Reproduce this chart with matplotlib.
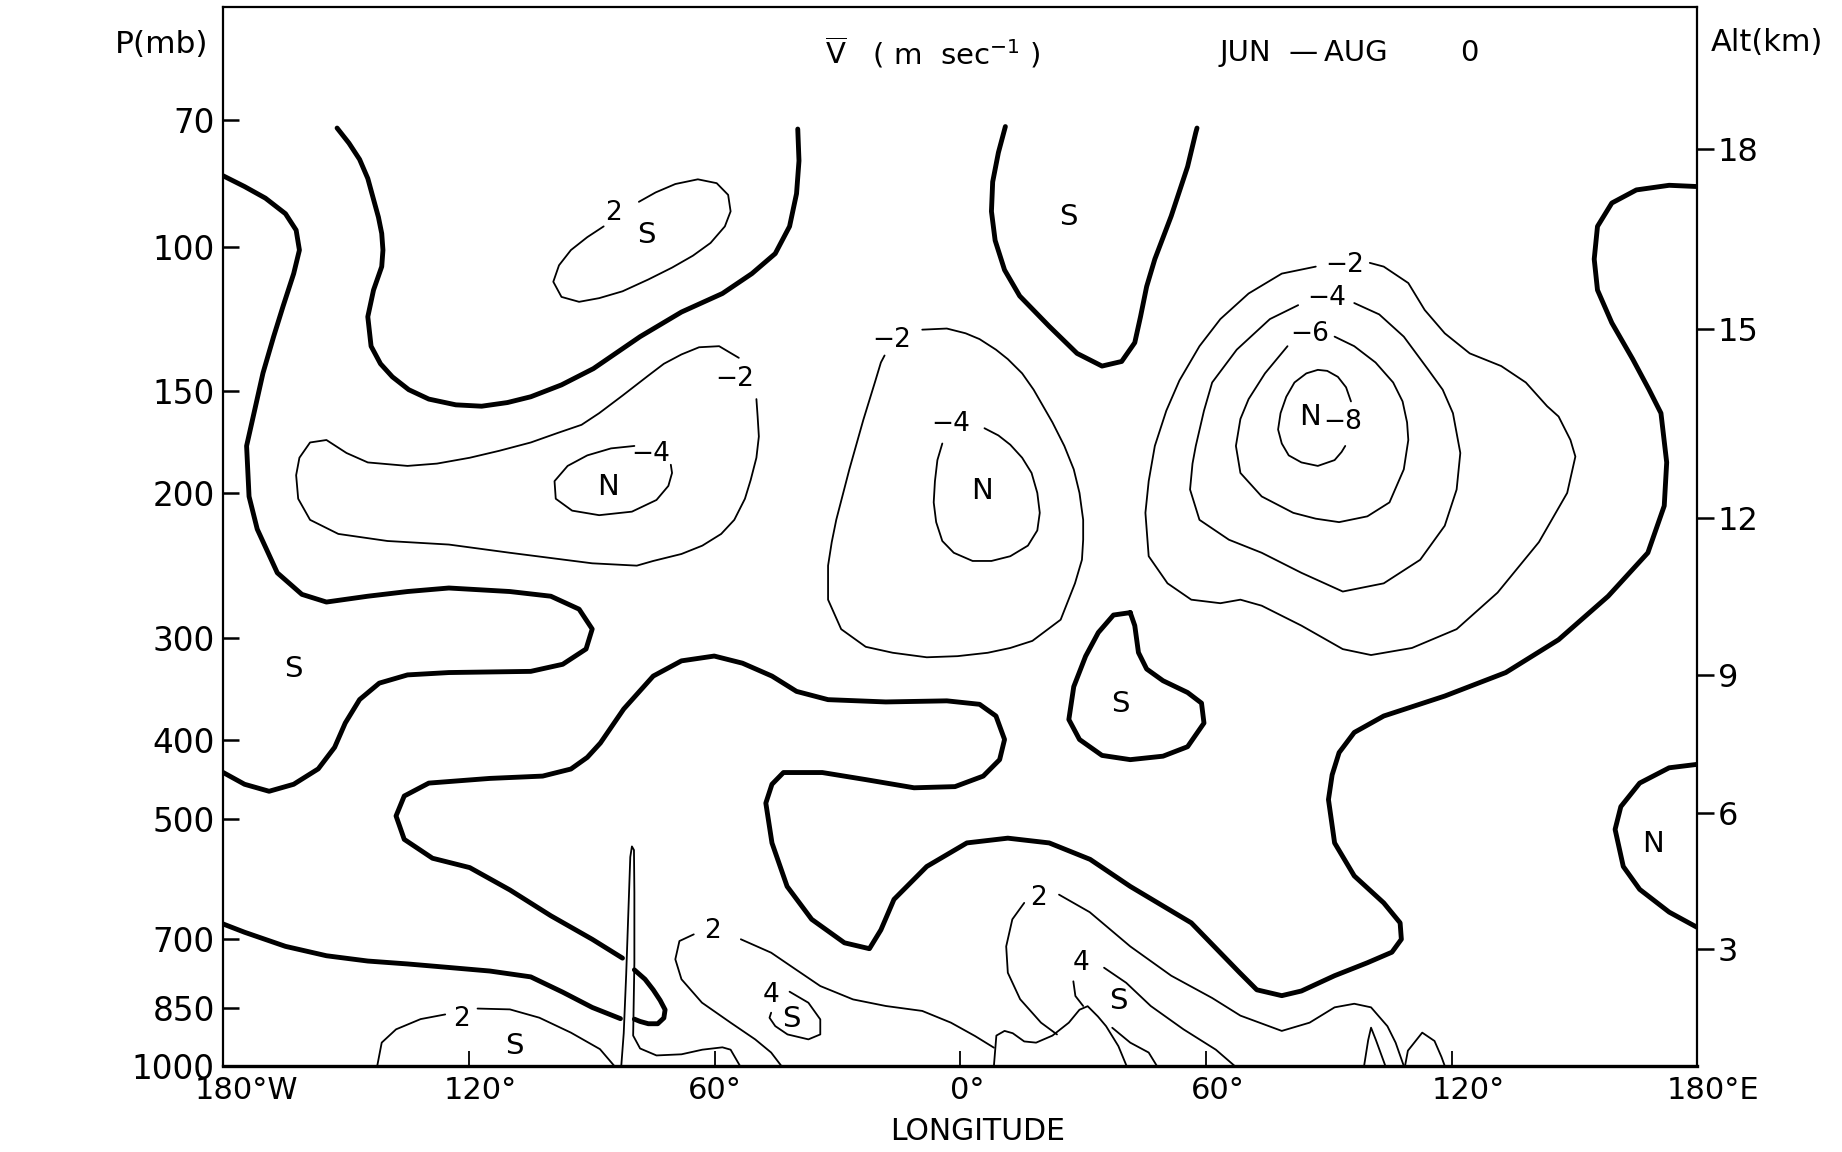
import matplotlib.pyplot as plt
from matplotlib.ticker import NullLocator
from matplotlib.transforms import ScaledTranslation

plt.rcParams['font.family'] = ['DejaVu Sans']
plt.rcParams['mathtext.default'] = 'regular'

# axes
p_ticks = [70, 100, 150, 200, 300, 400, 500, 700, 850, 1000]
p_labels = ['70', '100', '150', '200', '300', '400', '500', '700', '850', '1000']
lon_ticks = [-180, -120, -60, 0, 60, 120, 180]
lon_labels = ['180°W', '120°', '60°', '0°', '60°', '120°', '180°E']
alt_km = [3, 6, 9, 12, 15, 18]
alt_p = [720, 491, 333, 214, 126, 76]

# zero lines (heavy)
z1_lon = [-180, -174.8, -169.7, -164.8, -162.2, -161.4, -162.8, -165.4, -167.7, -170.3,
          -172.3, -174.3, -173.7, -171.7, -166.8, -160.8, -154.8, -144.7, -135.0, -124.9,
          -110.0, -100.0, -93.1, -89.9, -91.4, -97.1, -104.9, -124.9, -135.0, -141.9,
          -146.7, -150.2, -152.8, -156.8, -162.8, -168.8, -174.8, -180]
z1_p = [81.9, 84.4, 87.2, 91.1, 95.4, 100.9, 107.8, 118.2, 128.7, 142.6,
        158.0, 175.0, 201.7, 221.1, 250.0, 265.6, 271.4, 267.0, 263.5, 260.9,
        263.5, 267.0, 276.9, 292.8, 309.7, 323.3, 329.8, 330.9, 333.1, 340.9,
        357.0, 381.3, 408.3, 433.8, 453.0, 462.0, 453.0, 438.3]

z2_lon = [-152.2, -149.3, -146.7, -144.7, -143.3, -142.1, -141.3, -141.0, -141.3, -143.3,
          -144.7, -143.9, -141.6, -138.7, -134.7, -129.8, -123.2, -116.9, -110.6, -104.9,
          -97.4, -89.6, -78.2, -68.1, -58.1, -50.9, -45.2, -41.7, -40.0, -39.4, -39.7]
z2_p = [71.6, 74.7, 78.2, 82.5, 87.5, 92.0, 96.3, 100.9, 105.7, 112.9,
        121.7, 132.2, 138.9, 144.1, 149.4, 153.4, 155.9, 156.5, 154.9, 152.4,
        147.4, 140.8, 128.7, 120.1, 114.0, 107.8, 101.9, 94.4, 86.1, 78.5, 71.8]

z3_lon = [11.0, 9.3, 7.9, 7.6, 8.5, 10.8, 14.5, 21.7, 28.5, 34.6,
          39.4, 42.6, 44.0, 45.5, 47.5, 51.5, 55.5, 57.5, 57.8]
z3_p = [71.3, 76.7, 83.3, 90.5, 98.2, 106.7, 114.8, 125.0, 134.9, 139.8,
        138.0, 130.9, 121.7, 111.8, 103.5, 91.7, 79.8, 72.5, 71.6]

z4_lon = [-82.5, -89.9, -100.0, -110.0, -119.8, -128.9, -135.8, -137.8, -135.8, -129.8,
          -114.9, -102.0, -95.1, -91.1, -87.9, -82.2, -75.0, -68.1, -60.1, -53.2,
          -46.0, -40.0, -32.3, -18.2, -3.3, 4.7, 8.7, 10.8, 9.6, 5.6,
          -1.3, -11.3, -23.1, -33.7, -43.2, -46.0, -47.5, -46.0, -42.3, -36.3,
          -28.3, -22.2, -19.4, -16.2, -8.2, 1.6, 11.6, 21.7, 31.7, 41.5,
          56.4, 68.1, 72.4, 78.5, 83.3, 91.4, 99.4, 105.4, 107.7, 107.4,
          103.4, 96.2, 91.4, 89.9, 90.8, 92.5, 96.2, 103.4, 118.3, 133.2,
          146.1, 158.2, 167.9, 171.9, 172.5, 171.1, 168.2, 164.2, 159.1, 155.6,
          154.8, 155.6, 159.1, 165.1, 173.1, 180.0]
z4_p = [738.5, 700.4, 655.6, 609.7, 572.6, 557.7, 528.9, 495.2, 468.2, 451.5,
        445.6, 442.7, 434.0, 420.0, 403.4, 366.6, 334.2, 320.2, 315.9, 322.3,
        334.2, 348.9, 357.1, 359.4, 358.3, 361.8, 373.9, 399.4, 422.7, 442.7,
        456.0, 457.5, 447.1, 438.3, 438.3, 453.0, 477.6, 534.2, 603.7, 662.2,
        707.4, 719.2, 682.2, 626.1, 570.8, 534.2, 527.1, 534.2, 559.5, 603.7,
        668.8, 768.3, 807.3, 820.7, 810.0, 775.9, 748.2, 726.3, 700.4, 668.8,
        632.3, 586.1, 534.2, 472.9, 441.2, 414.4, 391.6, 373.9, 353.5, 330.9,
        301.7, 267.0, 236.3, 207.1, 183.3, 159.6, 149.4, 137.1, 123.8, 112.9,
        103.5, 94.4, 88.4, 85.2, 84.1, 84.4]

z5_lon = [41.5, 37.4, 33.7, 30.6, 27.7, 26.5, 29.1, 34.6, 41.5, 49.5,
          55.5, 59.5, 58.9, 55.5, 49.5, 45.5, 43.5, 42.6, 41.5]
z5_p = [279.6, 281.5, 295.7, 316.0, 344.3, 377.6, 399.4, 417.7, 422.7, 418.6,
        407.6, 381.4, 360.6, 350.0, 338.6, 327.6, 312.8, 290.0, 279.6]

z6_lon = [180.0, 173.1, 165.9, 161.3, 159.9, 161.9, 165.9, 173.1, 180.0]
z6_p = [428.3, 432.5, 451.5, 482.4, 514.3, 570.8, 608.7, 648.9, 677.6]

z7_lon = [-180.0, -174.8, -164.8, -154.8, -144.7, -135.0, -124.9, -114.9, -104.9, -97.1,
          -89.9, -83.0]
z7_p = [671.0, 686.7, 714.5, 733.6, 744.6, 750.7, 758.2, 765.8, 778.5, 812.7,
        848.3, 875.5]

z8_lon = [-79.6, -77.0, -75.0, -73.3, -72.1, -72.4, -73.9, -76.2, -78.2, -79.6]
z8_p = [763.3, 783.7, 807.3, 831.6, 853.8, 873.8, 888.1, 888.1, 882.4, 876.7]

# -2, -4 ... and +2, +4 isotachs (light)
n2w_lon = [-54.1, -58.9, -63.8, -68.1, -72.4, -76.2, -82.5, -88.2, -92.5, -98.3,
           -104.9, -112.6, -119.8, -127.8, -135.0, -144.7, -149.9, -154.8, -158.8, -161.4,
           -162.2, -161.7, -158.8, -151.9, -139.9, -124.9, -110.0, -89.9, -79.0, -75.0,
           -68.1, -63.0, -58.4, -55.2, -52.6, -51.2, -49.8, -49.2, -49.5, -49.8]
n2w_p = [136.6, 132.2, 132.6, 135.3, 138.9, 143.6, 151.9, 159.6, 164.9, 168.7,
         173.3, 177.4, 180.9, 183.9, 185.1, 183.3, 178.5, 172.1, 173.3, 180.9,
         190.0, 203.0, 215.4, 224.1, 228.6, 230.9, 236.3, 243.4, 245.0, 241.8,
         237.1, 231.6, 224.1, 215.4, 203.0, 192.6, 180.9, 170.4, 161.1, 153.4]

n4w_lon = [-79.6, -85.3, -91.1, -95.9, -99.1, -98.8, -94.8, -88.2, -80.2, -74.2,
           -71.3, -70.4, -70.7]
n4w_p = [175.0, 176.2, 179.7, 185.1, 193.2, 203.0, 209.9, 212.6, 210.5, 203.7,
         195.8, 188.8, 184.5]

p2n_lon = [-78.5, -74.4, -69.6, -64.1, -59.5, -56.7, -56.1, -57.5, -61.0, -65.3,
           -70.4, -76.2, -82.5, -88.2, -93.1, -97.4, -99.4, -98.0, -95.1, -91.1, -87.1]
p2n_p = [88.1, 85.8, 83.8, 82.7, 83.6, 86.4, 90.5, 94.4, 98.9, 102.5,
         106.0, 109.6, 113.3, 115.5, 116.7, 115.1, 110.3, 105.3, 100.9, 97.3, 94.4]

n2c_lon = [-9.3, -3.3, 1.3, 4.7, 8.7, 11.6, 15.1, 17.9, 22.5, 25.4,
           27.7, 29.1, 30.0, 30.0, 29.7, 28.0, 24.5, 17.6, 12.2, 6.7,
           -0.7, -8.2, -16.5, -23.1, -29.1, -32.3, -32.3, -31.4, -30.3, -27.1,
           -23.7, -20.8, -19.4, -18.5]
n2c_p = [126.2, 125.8, 127.5, 129.6, 133.5, 137.1, 142.7, 149.4, 163.8, 175.0,
         186.9, 199.7, 215.4, 227.8, 241.0, 257.5, 285.2, 302.7, 308.8, 313.0,
         316.0, 317.0, 313.0, 307.8, 292.9, 269.6, 245.0, 229.3, 215.4, 186.9,
         162.7, 146.0, 138.4, 135.7]

n4c_lon = [5.9, 9.3, 12.2, 15.1, 17.4, 18.8, 19.4, 18.8, 16.5, 12.2,
           7.6, 3.0, -1.6, -4.4, -5.9, -6.5, -6.2, -5.6, -4.4]
n4c_p = [166.5, 169.9, 174.4, 180.9, 188.8, 199.7, 211.2, 221.9, 231.6, 238.6,
         241.8, 241.8, 236.3, 228.6, 216.8, 205.1, 193.2, 182.1, 173.8]

n2e_lon = [100.0, 103.4, 109.4, 113.4, 118.3, 124.4, 132.1, 138.1, 143.3, 146.1,
           149.0, 150.2, 148.2, 141.3, 131.2, 121.2, 110.3, 100.3, 93.4, 83.3,
           73.6, 68.4, 63.5, 56.4, 50.6, 46.0, 45.2, 46.0, 47.5, 50.3,
           53.5, 58.4, 63.5, 70.4, 78.5, 86.8]
n2e_p = [104.6, 105.7, 110.7, 119.4, 127.5, 134.9, 139.8, 146.4, 156.5, 161.1,
         172.1, 180.3, 199.7, 229.3, 264.3, 292.9, 308.8, 315.0, 309.8, 290.0,
         274.2, 269.6, 272.3, 269.6, 257.5, 238.6, 211.2, 193.2, 175.0, 158.5,
         145.6, 132.2, 122.5, 114.0, 107.8, 105.7]

n4e_lon = [96.2, 102.3, 108.3, 114.3, 117.8, 120.3, 122.1, 121.2, 118.3, 112.3,
           103.4, 93.4, 83.3, 73.6, 65.6, 58.4, 56.1, 56.7, 57.5, 59.5,
           61.5, 67.5, 75.6, 82.5]
n4e_p = [117.1, 120.9, 128.7, 141.3, 149.4, 159.6, 178.5, 197.8, 219.0, 241.0,
         257.5, 263.5, 250.0, 236.3, 227.8, 215.4, 197.8, 183.9, 175.0, 158.5,
         146.4, 133.5, 122.5, 117.8]

n6e_lon = [91.4, 96.2, 101.4, 105.7, 108.0, 109.1, 109.4, 108.3, 104.8, 99.4,
           92.5, 86.8, 81.3, 73.6, 68.4, 67.3, 68.4, 70.4, 74.4, 79.9]
n6e_p = [128.7, 132.2, 138.4, 146.4, 154.4, 163.8, 172.1, 186.9, 205.1, 213.3,
         216.8, 214.7, 211.2, 201.7, 188.8, 175.0, 162.2, 153.4, 142.7, 132.2]

n8e_lon = [95.4, 94.2, 92.2, 89.6, 87.3, 84.5, 81.6, 79.6, 78.2, 77.6,
           78.5, 80.2, 83.3, 87.3, 91.4, 93.1, 94.0]
n8e_p = [154.4, 148.4, 144.1, 141.7, 141.3, 142.7, 146.4, 152.4, 159.6, 167.1,
         173.8, 179.7, 183.3, 185.1, 182.1, 178.0, 175.0]

p2sw_a_lon = [-142.4, -141.3, -137.8, -131.8, -125.8]
p2sw_a_p = [1000, 936.5, 902.2, 876.6, 865.2]
p2sw_b_lon = [-117.9, -110.0, -102.8, -95.1, -88.0, -84.5]
p2sw_b_p = [851.0, 853.0, 873.2, 910.6, 953.9, 1000]

p2m_a_lon = [-65.1, -68.6, -69.6, -68.1, -63.1, -56.1, -50.1, -46.2, -43.7]
p2m_a_p = [690.8, 703.9, 740.9, 783.7, 837.0, 885.4, 928.0, 963.0, 1000]
p2m_b_lon = [-53.6, -46.2, -40.2, -34.2, -26.2, -18.2, -9.3, -2.3, 3.6, 8.2]
p2m_b_p = [700.4, 727.3, 762.3, 798.8, 829.4, 844.9, 856.7, 885.4, 919.4, 949.9]

p4m_lon = [-41.7, -37.1, -34.2, -34.2, -37.1, -42.2, -45.2, -46.6, -46.2]
p4m_p = [811.6, 837.2, 877.3, 915.2, 928.0, 915.2, 894.0, 873.3, 861.0]

p2e_a_lon = [23.6, 19.7, 14.6, 11.6, 11.2, 12.7, 15.6]
p2e_a_p = [915.2, 885.4, 828.9, 769.5, 714.6, 662.2, 632.3]
p2e_b_lon = [24.1, 31.6, 41.5, 51.5, 61.5, 68.4, 78.5, 85.3, 91.4, 96.2,
             100.3, 104.3, 106.3, 108.3]
p2e_b_p = [617.8, 649.0, 714.6, 775.9, 826.1, 868.1, 906.2, 885.4, 848.1, 839.6,
           848.1, 894.3, 936.6, 1000]

p4e_a_lon = [27.6, 28.1, 30.0]
p4e_a_p = [788.3, 821.5, 844.9]
p4e_b_lon = [35.1, 40.5, 46.5, 54.5, 62.4, 67.0]
p4e_b_p = [758.7, 791.5, 844.9, 902.2, 955.3, 1000]

p4e_c_lon = [37.1, 41.5, 46.0, 48.0]
p4e_c_p = [898.2, 936.6, 963.0, 1000]

# terrain outline
andes_lon = [-82.8, -82.2, -81.6, -81.0, -80.6, -80.2, -79.7, -79.6, -79.6, -79.9,
             -78.2, -74.2, -68.1, -63.0, -58.1, -56.1, -53.8]
andes_p = [1000, 912.1, 773.3, 634.4, 555.8, 539.5, 545.0, 613.7, 748.2, 918.2,
           952.1, 970.9, 967.8, 955.3, 949.0, 955.3, 1000]
africa_lon = [8.2, 8.8, 10.8, 12.8, 15.6, 18.5, 22.5, 26.5, 29.1, 31.1,
              33.6, 35.6, 38.6, 40.6]
africa_p = [1000, 918.2, 906.2, 912.1, 933.4, 936.6, 918.2, 885.4, 853.8, 845.4,
            870.2, 894.3, 945.8, 1000]
asia1_lon = [98.6, 99.6, 100.3, 101.5, 103.8]
asia1_p = [1000, 930, 898, 930, 1000]
asia2_lon = [108.6, 109.3, 112.8, 115.8, 117.5, 118.3]
asia2_p = [1000, 958, 910.6, 932.2, 975, 1000]

# N / S centres and isotach labels
mark_lon = [-76.7, 26.5, -86.0, 5.3, 85.3, -162.8, 39.2, 169.1, -108.9, -41.2, 38.6]
mark_p = [96.6, 92.0, 196.2, 198.4, 161.1, 327.9, 361.8, 536.3, 945.8, 877.2, 833.3]
mark_text = ['S', 'S', 'N', 'N', 'N', 'S', 'S', 'N', 'S', 'S', 'S']

lab_lon = [-84.7, -55.1, -75.6, -16.8, -2.3, 93.9, 89.4, 85.3, 93.4,
           -121.9, -60.6, -46.2, 19.1, 29.6]
lab_p = [91.0, 145.1, 179.1, 129.8, 164.7, 105.2, 115.5, 127.9, 163.8,
         877.2, 684.4, 818.1, 623.2, 748.2]
lab_text = ['2', '−2', '−4', '−2', '−4', '−2', '−4', '−6', '−8',
            '2', '2', '4', '2', '4']

zero_lines = [(z1_lon, z1_p), (z2_lon, z2_p), (z3_lon, z3_p), (z4_lon, z4_p),
              (z5_lon, z5_p), (z6_lon, z6_p), (z7_lon, z7_p), (z8_lon, z8_p)]
thin_lines = [(n2w_lon, n2w_p), (n4w_lon, n4w_p), (p2n_lon, p2n_p), (n2c_lon, n2c_p),
              (n4c_lon, n4c_p), (n2e_lon, n2e_p), (n4e_lon, n4e_p), (n6e_lon, n6e_p),
              (n8e_lon, n8e_p), (p2sw_a_lon, p2sw_a_p), (p2sw_b_lon, p2sw_b_p),
              (p2m_a_lon, p2m_a_p), (p2m_b_lon, p2m_b_p), (p4m_lon, p4m_p),
              (p2e_a_lon, p2e_a_p), (p2e_b_lon, p2e_b_p), (p4e_a_lon, p4e_a_p),
              (p4e_b_lon, p4e_b_p), (p4e_c_lon, p4e_c_p),
              (andes_lon, andes_p), (africa_lon, africa_p),
              (asia1_lon, asia1_p), (asia2_lon, asia2_p)]

fig = plt.figure(figsize=(18.42, 11.52), dpi=100)
ax = fig.add_axes([0.1212, 0.0747, 0.8003, 0.9189])
ax.set_yscale('log')
ax.set_xlim(-180, 180)
ax.set_ylim(1000, 51)

for lon, p in zero_lines:
    ax.plot(lon, p, color='black', lw=3.5, solid_capstyle='round', solid_joinstyle='round')
for lon, p in thin_lines:
    ax.plot(lon, p, color='black', lw=1.3, solid_capstyle='round', solid_joinstyle='round')

for lon, p, s in zip(mark_lon, mark_p, mark_text):
    ax.text(lon, p, s, fontsize=21, ha='center', va='center')
for lon, p, s in zip(lab_lon, lab_p, lab_text):
    ax.text(lon, p, s, fontsize=19, ha='center', va='center')

ax.set_yticks(p_ticks)
ax.set_yticklabels(p_labels)
ax.yaxis.set_minor_locator(NullLocator())
ax.tick_params(axis='y', direction='in', length=11.5, width=1.8, left=True, right=True,
               labelsize=23.5, pad=6)
ax.set_xticks(lon_ticks)
ax.set_xticklabels(lon_labels)
ax.tick_params(axis='x', direction='in', length=11, width=1.3, labelsize=22, pad=7)
shifts = [17, 8.5, 0, 5, 8.5, 12, 11]
for lab, dx in zip(ax.get_xticklabels(), shifts):
    lab.set_transform(lab.get_transform() + ScaledTranslation(dx / 72, 0, fig.dpi_scale_trans))
for s in ax.spines.values():
    s.set_linewidth(1.6)
ax.spines['bottom'].set_linewidth(2.4)

ax2 = ax.twinx()
ax2.set_yscale('log')
ax2.set_ylim(1000, 51)
ax2.set_yticks(alt_p)
ax2.set_yticklabels([str(a) for a in alt_km])
ax2.yaxis.set_minor_locator(NullLocator())
ax2.tick_params(axis='y', direction='out', length=12.5, width=1.8, labelsize=23, pad=2)
for s in ax2.spines.values():
    s.set_visible(False)

ax.text(0.481, 0.957, r'$\overline{V}$   ( m  sec$^{-1}$ )', transform=ax.transAxes,
        ha='center', va='center', fontsize=21)
ax.text(0.733, 0.957, 'JUN  —\u2009AUG', transform=ax.transAxes, ha='center', va='center',
        fontsize=21)
ax.text(0.845, 0.957, '0', transform=ax.transAxes, ha='center', va='center', fontsize=21)
ax.text(-0.042, 0.965, 'P(mb)', transform=ax.transAxes, ha='center', va='center', fontsize=22.5)
ax.text(1.047, 0.967, 'Alt(km)', transform=ax.transAxes, ha='center', va='center', fontsize=22)
ax.text(0.512, -0.0617, 'LONGITUDE', transform=ax.transAxes, ha='center', va='center',
        fontsize=21.5)

fig.savefig('out.png', dpi=100)
